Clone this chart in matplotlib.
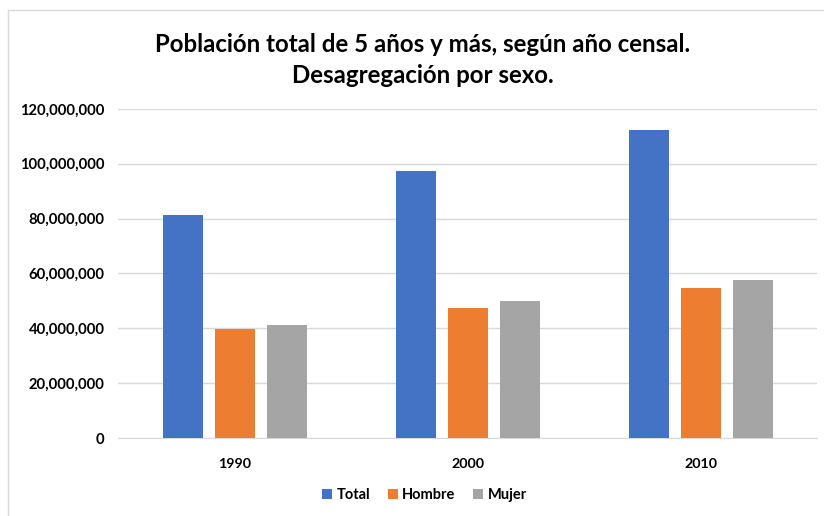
import matplotlib
matplotlib.use("Agg")
import matplotlib.pyplot as plt
import numpy as np
from matplotlib.ticker import FuncFormatter
from matplotlib.patches import Rectangle

years = ["1990", "2000", "2010"]
series_names = ["Total", "Hombre", "Mujer"]
total = [81249645, 97483412, 112336538]
hombre = [39893969, 47592253, 54855231]
mujer = [41355676, 49891159, 57481307]
colors = ["#4472C4", "#ED7D31", "#A5A5A5"]

plt.rcParams['font.family'] = ['Lato', 'DejaVu Sans']

fig = plt.figure(figsize=(8.24, 5.16), dpi=100)
ax = fig.add_axes([0.1438, 0.151, 0.992 - 0.1438, 0.638])

x = np.arange(len(years))
w = 0.172
step = 0.223
for i, (vals, name, c) in enumerate(zip([total, hombre, mujer], series_names, colors)):
    ax.bar(x + (i - 1) * step, vals, width=w, color=c, label=name, zorder=3)

ax.set_xlim(-0.5, 2.5)
ax.set_ylim(0, 120000000)
ax.set_yticks(np.arange(0, 120000001, 20000000))
ax.yaxis.set_major_formatter(FuncFormatter(lambda v, p: f"{int(v):,}"))
ax.set_xticks(x)
ax.set_xticklabels(years)
ax.grid(axis='y', color='#D9D9D9', linewidth=1, zorder=0)
for s in ['top', 'right', 'left']:
    ax.spines[s].set_visible(False)
ax.spines['bottom'].set_color('#D9D9D9')
ax.tick_params(axis='both', length=0, colors='#000000')
ax.tick_params(axis='y', pad=10, labelsize=10.6)
ax.tick_params(axis='x', pad=14, labelsize=10.3)
for lab in ax.get_xticklabels() + ax.get_yticklabels():
    lab.set_fontweight('bold')

fig.text(0.513, 0.884, "Población total de 5 años y más, según año censal.\nDesagregación por sexo.",
         ha='center', va='center', fontsize=17.3, fontweight='bold', linespacing=1.4)

leg = fig.legend(loc='center', bbox_to_anchor=(0.515, 0.041), ncol=3, frameon=False,
                 handlelength=0.7, handleheight=0.7, handletextpad=0.3, columnspacing=1.2,
                 prop={'weight': 'bold', 'size': 10.5})

fig.patches.append(Rectangle((8/824, -0.1), 1.2, (516-10)/516 + 0.1, transform=fig.transFigure,
                             fill=False, edgecolor='#D9D9D9', linewidth=1))

fig.savefig("out.png", dpi=100)
